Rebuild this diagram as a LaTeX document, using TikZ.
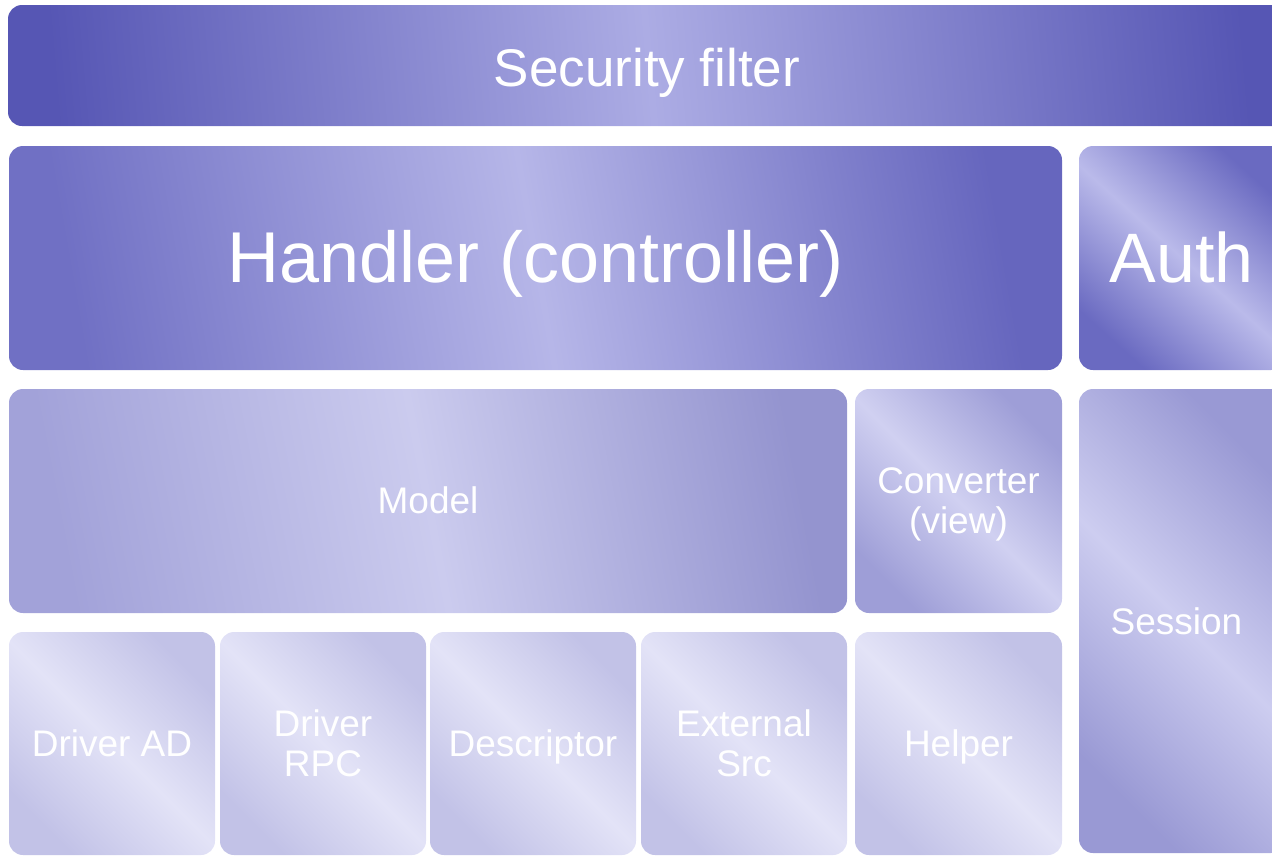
\documentclass[tikz,border=0pt]{standalone}
\usepackage{fontspec}
\setmainfont{Liberation Sans}
\newcommand\ps{\rule[-0.212em]{0pt}{1.117em}}
\newcommand\nolsl{\lineskiplimit-100pt\relax}
\definecolor{secdark}{HTML}{5656B4}
\definecolor{seclight}{HTML}{ACACE4}
\definecolor{handarkl}{HTML}{7070C4}
\definecolor{handarkr}{HTML}{6666BE}
\definecolor{hanlight}{HTML}{B6B6E8}
\definecolor{authdark}{HTML}{6A6AC1}
\definecolor{authlight}{HTML}{BABAEA}
\definecolor{moddarkl}{HTML}{A2A2D9}
\definecolor{moddarkr}{HTML}{9494CF}
\definecolor{modlight}{HTML}{CBCBEE}
\definecolor{convdark}{HTML}{9E9ED7}
\definecolor{convlight}{HTML}{D0D0F1}
\definecolor{sesdark}{HTML}{9999D4}
\definecolor{seslight}{HTML}{CDCDF0}
\definecolor{botdark}{HTML}{C2C2E7}
\definecolor{botlight}{HTML}{E3E3F7}
\tikzset{
  box/.style={rounded corners=14pt, inner sep=0pt, align=center, text=white},
  secbox/.style={box, left color=secdark, right color=secdark, middle color=seclight, shading angle=95},
  hanbox/.style={box, left color=handarkl, right color=handarkr, middle color=hanlight, shading angle=100},
  authbox/.style={box, left color=authdark, right color=authdark, middle color=authlight, shading angle=138},
  modbox/.style={box, left color=moddarkl, right color=moddarkr, middle color=modlight, shading angle=101},
  convbox/.style={box, left color=convdark, right color=convdark, middle color=convlight, shading angle=135},
  sesbox/.style={box, left color=sesdark, right color=sesdark, middle color=seslight, shading angle=135},
  botbox/.style={box, left color=botdark, right color=botdark, middle color=botlight, shading angle=135},
  big/.style={font=\fontsize{53}{56}\selectfont\nolsl},
  huge/.style={font=\fontsize{72}{76}\selectfont\nolsl},
  hugeb/.style={font=\fontsize{70}{74}\selectfont\nolsl},
  small/.style={font=\fontsize{37}{40}\selectfont\nolsl},
  lbl/.style={text=white, inner sep=0pt, align=center}
}
\begin{document}
\begin{tikzpicture}[x=1pt,y=-1pt]
\useasboundingbox (0,0) rectangle (1272,855);
\clip (0,0) rectangle (1272,855);
% top bar
\node[secbox, minimum width=1282pt, minimum height=121pt] (sec) at (649,65.5) {};
\node[lbl, big] (seclbl) at (647,68) {\ps Security filter};
% handler and auth
\node[hanbox, huge, minimum width=1053pt, minimum height=224pt] (handler) at (535.5,258) {\ps Handler (controller)};
\node[authbox, minimum width=206pt, minimum height=224pt] (auth) at (1182,258) {};
\node[lbl, hugeb] (authlbl) at (1181.5,258) {\ps Auth};
% model row
\node[modbox, small, minimum width=838pt, minimum height=224pt] (model) at (428,501) {\ps Model};
\node[convbox, small, minimum width=207pt, minimum height=224pt] (conv) at (958.5,501) {\ps Converter\\\ps(view)};
\node[sesbox, minimum width=206pt, minimum height=464pt] (session) at (1182,621) {};
\node[lbl, small] (sessionlbl) at (1176.5,622) {\ps Session};
% bottom row
\node[botbox, small, minimum width=206pt, minimum height=223pt] (dad) at (112,743.5) {\ps Driver AD};
\node[botbox, small, minimum width=206pt, minimum height=223pt] (drpc) at (323,743.5) {\ps Driver\\\ps RPC};
\node[botbox, small, minimum width=206pt, minimum height=223pt] (desc) at (533,743.5) {\ps Descriptor};
\node[botbox, small, minimum width=206pt, minimum height=223pt] (ext) at (744,743.5) {\ps External\\\ps Src};
\node[botbox, small, minimum width=207pt, minimum height=223pt] (helper) at (958.5,743.5) {\ps Helper};
\end{tikzpicture}
\end{document}
